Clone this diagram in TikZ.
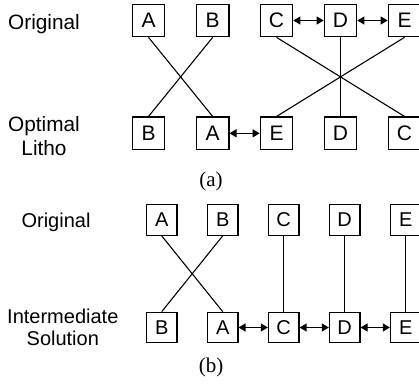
\documentclass[tikz,border=0pt]{standalone}
\usepackage{fontspec}
\setmainfont{Liberation Sans}
\newfontfamily\capfont{Liberation Serif}
\usetikzlibrary{arrows.meta}
\begin{document}
\begin{tikzpicture}[x=1pt,y=-1pt,
  cell/.style={draw,line width=1.2pt,inner sep=0pt,minimum size=#1,
    font=\fontsize{21}{20}\selectfont},
  cellA/.style={cell=32.5pt},
  cellB/.style={cell=30.5pt,font=\fontsize{20}{19}\selectfont},
  link/.style={line width=1.1pt},
  swap/.style={line width=1.1pt,{Triangle[length=7pt,width=8pt]}-{Triangle[length=7pt,width=8pt]}},
  lblA/.style={anchor=base,font=\fontsize{20.8}{18}\selectfont},
  lblB/.style={anchor=base,font=\fontsize{20}{18}\selectfont},
  subcap/.style={font=\capfont\fontsize{21}{21}\selectfont}]
\useasboundingbox (0,0) rectangle (419,383);

% ---- (a) ----
\node[lblA] (oa) at (44,29.3) {Original};
\node[lblA] (pa1) at (44,131.5) {Optimal};
\node[lblA] (pa2) at (44,155.5) {Litho};

\node[cellA] (a1) at (148.5,20.5) {A};
\node[cellA] (b1) at (212.7,20.5) {B};
\node[cellA] (c1) at (276.5,20.5) {C};
\node[cellA] (d1) at (340.5,20.5) {D};
\node[cellA] (e1) at (404.5,20.5) {E};

\node[cellA] (b2) at (148.5,133.3) {B};
\node[cellA] (a2) at (212.7,133.3) {A};
\node[cellA] (e2) at (276.5,133.3) {E};
\node[cellA] (d2) at (340.5,133.3) {D};
\node[cellA] (c2) at (404.5,133.3) {C};

\draw[link] (a1.south) -- (a2.north);
\draw[link] (b1.south) -- (b2.north);
\draw[link] (c1.south) -- (c2.north);
\draw[link] (d1.south) -- (d2.north);
\draw[link] (e1.south) -- (e2.north);

\draw[swap] (c1.east) -- (d1.west);
\draw[swap] (d1.east) -- (e1.west);
\draw[swap] (a2.east) -- (e2.west);

\node[subcap] (capa) at (211,181) {(a)};

% ---- (b) ----
\node[lblB] (ob) at (56,227.5) {Original};
\node[lblB] (pb1) at (62.8,323.5) {Intermediate};
\node[lblB] (pb2) at (62.8,345.5) {Solution};

\node[cellB] (a3) at (161.7,220) {A};
\node[cellB] (b3) at (222.7,220) {B};
\node[cellB] (c3) at (283.7,220) {C};
\node[cellB] (d3) at (344.7,220) {D};
\node[cellB] (e3) at (405.7,220) {E};

\node[cellB] (b4) at (161.7,327.5) {B};
\node[cellB] (a4) at (222.7,327.5) {A};
\node[cellB] (c4) at (283.7,327.5) {C};
\node[cellB] (d4) at (344.7,327.5) {D};
\node[cellB] (e4) at (405.7,327.5) {E};

\draw[link] (a3.south) -- (a4.north);
\draw[link] (b3.south) -- (b4.north);
\draw[link] (c3.south) -- (c4.north);
\draw[link] (d3.south) -- (d4.north);
\draw[link] (e3.south) -- (e4.north);

\draw[swap] (a4.east) -- (c4.west);
\draw[swap] (c4.east) -- (d4.west);
\draw[swap] (d4.east) -- (e4.west);

\node[subcap] (capb) at (211,367) {(b)};
\end{tikzpicture}
\end{document}
